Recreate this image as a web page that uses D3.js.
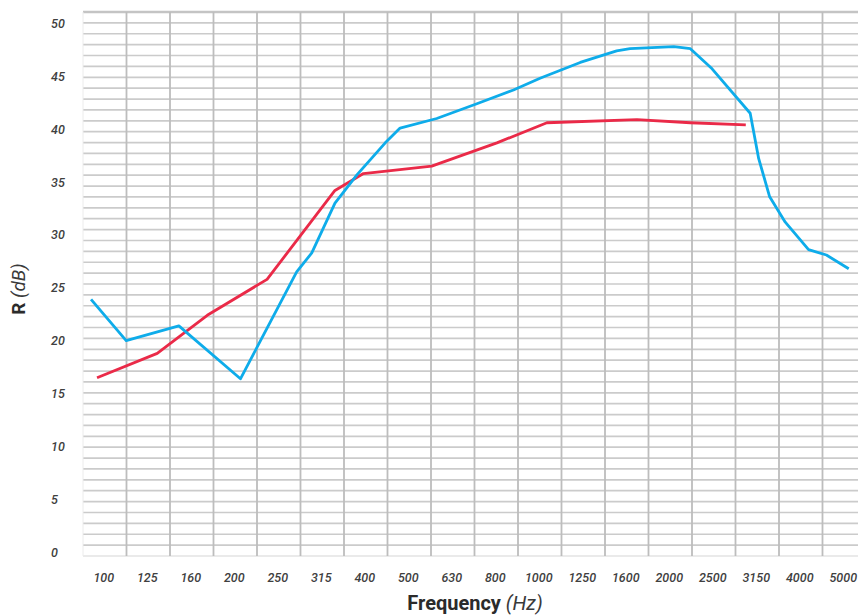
<!DOCTYPE html>
<html>
<head>
<meta charset="utf-8">
<script src="https://cdn.jsdelivr.net/npm/d3@7"></script>
<style>
  body { margin: 0; background: #fff; }
  text { font-family: Roboto, "DejaVu Sans", sans-serif; }
</style>
</head>
<body>
<script>
// third-octave bands shown on the axis
const bands = ['100', '125', '160', '200', '250', '315', '400', '500', '630', '800',
               '1000', '1250', '1600', '2000', '2500', '3150', '4000', '5000'];
const dbTicks = [0, 5, 10, 15, 20, 25, 30, 35, 40, 45, 50];

// [frequency Hz, R dB]
const blueSeries = [
  [93, 23.9], [112, 20.0], [148, 21.4], [205, 16.4], [276, 26.5], [299, 28.3],
  [338, 33.0], [380, 35.7], [441, 38.7], [477, 40.1], [579, 41.0], [716, 42.4],
  [869, 43.7], [1000, 44.8], [1237, 46.3], [1500, 47.4], [1610, 47.6], [2030, 47.8],
  [2215, 47.6], [2485, 45.7], [3040, 41.5], [3180, 37.2], [3370, 33.6], [3660, 31.2],
  [4140, 28.6], [4550, 28.1], [5120, 26.8]
];
const redSeries = [
  [96, 16.5], [132, 18.8], [172, 22.4], [236, 25.8], [338, 34.2], [393, 35.8],
  [564, 36.5], [796, 38.7], [1037, 40.6], [1670, 40.9], [2215, 40.6], [2970, 40.4]
];

let width = 858,
    height = 615;

let plot = { left: 83, right: 866, top: 12, bottom: 556 };

let svg = d3.select('body')
  .append('svg')
    .attr('width', width)
    .attr('height', height);

// band scale for grid + tick labels, log scale for the curves (same centres)
let bandScale = d3.scaleBand()
  .domain(bands)
  .range([plot.left, plot.right]);

let half = bandScale.bandwidth() / 2;
let xScale = d3.scaleLog()
  .domain([100, 5000])
  .range([plot.left + half, plot.right - half]);

// 1 dB grid rows
let gridScale = d3.scaleLinear()
  .domain([0, 50])
  .range([plot.bottom, plot.top]);

// value scale used by labels and curves
let yScale = d3.scaleLinear()
  .domain([0, 50])
  .range([552.3, 23.3]);

let grid = svg.append('g');

grid.selectAll('.hline')
  .data(d3.range(0, 51))
  .enter().append('line')
    .attr('x1', plot.left)
    .attr('x2', plot.right)
    .attr('y1', d => gridScale(d))
    .attr('y2', d => gridScale(d))
    .attr('stroke', d => d === 0 ? '#e3e3e3' : (d === 50 ? '#c4c4c4' : '#cbcbcb'))
    .attr('stroke-width', d => d === 50 ? 2.5 : 1.7);

grid.selectAll('.vline')
  .data(bands.slice(1))
  .enter().append('line')
    .attr('x1', d => bandScale(d))
    .attr('x2', d => bandScale(d))
    .attr('y1', plot.top)
    .attr('y2', plot.bottom)
    .attr('stroke', '#bdbdbd')
    .attr('stroke-width', 1.8);

grid.append('line')
  .attr('x1', plot.left)
  .attr('x2', plot.left)
  .attr('y1', plot.top)
  .attr('y2', plot.bottom)
  .attr('stroke', '#ececec')
  .attr('stroke-width', 1);

// y labels
svg.append('g')
  .selectAll('text')
  .data(dbTicks)
  .enter().append('text')
    .attr('x', 51)
    .attr('y', d => yScale(d))
    .attr('dy', '0.36em')
    .style('font-size', '12.5px')
    .style('font-style', 'italic')
    .style('font-weight', 500)
    .style('fill', '#404040')
    .text(d => d);

// x labels
svg.append('g')
  .selectAll('text')
  .data(bands)
  .enter().append('text')
    .attr('x', d => bandScale(d) + half - 1)
    .attr('y', 582)
    .attr('text-anchor', 'middle')
    .style('font-size', '12.5px')
    .style('font-style', 'italic')
    .style('font-weight', 500)
    .style('fill', '#404040')
    .text(d => d);

// curves
let line = d3.line()
  .x(d => xScale(d[0]))
  .y(d => yScale(d[1]));

svg.append('path')
  .datum(redSeries)
  .attr('d', line)
  .attr('fill', 'none')
  .attr('stroke', '#ea2a48')
  .attr('stroke-width', 2.8)
  .attr('stroke-linejoin', 'round');

svg.append('path')
  .datum(blueSeries)
  .attr('d', line)
  .attr('fill', 'none')
  .attr('stroke', '#0eacea')
  .attr('stroke-width', 2.8)
  .attr('stroke-linejoin', 'round');

// axis titles
let xTitle = svg.append('text')
  .attr('x', 475)
  .attr('y', 610)
  .attr('text-anchor', 'middle')
  .style('font-size', '20px');
xTitle.append('tspan')
  .style('font-weight', 'bold')
  .style('fill', '#2b2b2b')
  .text('Frequency');
xTitle.append('tspan')
  .style('font-style', 'italic')
  .style('fill', '#3a3a3a')
  .text(' (Hz)');

let yTitle = svg.append('text')
  .attr('transform', 'translate(25,289) rotate(-90)')
  .attr('text-anchor', 'middle')
  .style('font-size', '19px');
yTitle.append('tspan')
  .style('font-weight', 'bold')
  .style('fill', '#2b2b2b')
  .text('R');
yTitle.append('tspan')
  .style('font-style', 'italic')
  .style('fill', '#3a3a3a')
  .text(' (dB)');
</script>
</body>
</html>
